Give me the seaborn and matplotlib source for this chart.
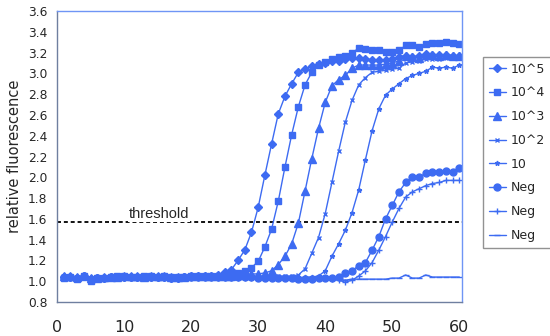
import matplotlib
matplotlib.use("Agg")
import matplotlib.pyplot as plt
import seaborn as sns
import pandas as pd

cycles = list(range(1, 61))

s_1e5 = [1.04,1.04,1.03,1.05,1.02,1.03,1.03,1.04,1.04,1.04, 1.04,1.04,1.04,1.04,1.04,1.04,1.03,1.03,1.04,1.05,
         1.05,1.05,1.05,1.06,1.09,1.11,1.20,1.30,1.47,1.71, 2.02,2.32,2.61,2.78,2.90,3.01,3.04,3.07,3.09,3.10,
         3.12,3.12,3.14,3.15,3.15,3.14,3.13,3.13,3.13,3.14, 3.16,3.17,3.16,3.17,3.19,3.18,3.18,3.18,3.17,3.17]
s_1e4 = [1.03,1.04,1.02,1.05,1.00,1.03,1.03,1.04,1.05,1.05, 1.04,1.04,1.05,1.05,1.04,1.05,1.04,1.04,1.04,1.05,
         1.05,1.05,1.05,1.05,1.06,1.07,1.08,1.10,1.13,1.19, 1.33,1.50,1.77,2.10,2.41,2.68,2.89,3.01,3.08,3.11,
         3.14,3.16,3.17,3.20,3.24,3.23,3.22,3.22,3.21,3.21, 3.22,3.27,3.27,3.25,3.28,3.29,3.29,3.30,3.29,3.28]
s_1e3 = [1.05,1.05,1.04,1.05,1.03,1.03,1.04,1.04,1.04,1.05, 1.05,1.05,1.04,1.05,1.05,1.05,1.04,1.04,1.04,1.05,
         1.05,1.05,1.05,1.05,1.05,1.05,1.06,1.06,1.07,1.07, 1.08,1.10,1.16,1.24,1.36,1.56,1.87,2.18,2.47,2.72,
         2.88,2.94,2.98,3.05,3.08,3.08,3.08,3.08,3.09,3.10, 3.12,3.17,3.16,3.15,3.18,3.18,3.17,3.18,3.17,3.17]
s_1e2 = [1.03,1.03,1.03,1.04,1.02,1.03,1.03,1.03,1.04,1.04, 1.04,1.04,1.04,1.04,1.04,1.04,1.03,1.03,1.04,1.04,
         1.04,1.04,1.04,1.04,1.04,1.04,1.04,1.04,1.04,1.04, 1.04,1.04,1.05,1.05,1.05,1.06,1.12,1.27,1.42,1.65,
         1.95,2.25,2.53,2.74,2.89,2.96,3.01,3.02,3.03,3.04, 3.05,3.10,3.11,3.12,3.14,3.14,3.14,3.15,3.15,3.15]
s_1e1 = [1.03,1.03,1.03,1.04,1.02,1.03,1.03,1.03,1.03,1.04, 1.04,1.04,1.04,1.04,1.04,1.04,1.03,1.03,1.03,1.04,
         1.04,1.04,1.04,1.04,1.04,1.04,1.03,1.03,1.03,1.03, 1.03,1.03,1.03,1.03,1.03,1.03,1.04,1.04,1.05,1.10,
         1.24,1.36,1.49,1.66,1.88,2.17,2.45,2.66,2.79,2.85, 2.90,2.95,2.98,3.00,3.02,3.06,3.05,3.06,3.05,3.08]
neg_a = [1.04,1.04,1.03,1.05,1.02,1.03,1.03,1.04,1.04,1.04, 1.04,1.04,1.04,1.04,1.04,1.04,1.03,1.03,1.04,1.04,
         1.04,1.04,1.04,1.04,1.04,1.04,1.04,1.04,1.04,1.03, 1.03,1.03,1.03,1.03,1.03,1.02,1.02,1.02,1.03,1.03,
         1.03,1.04,1.08,1.10,1.15,1.18,1.30,1.43,1.60,1.73, 1.86,1.95,2.00,2.00,2.04,2.05,2.05,2.06,2.05,2.09]
neg_b = [1.03,1.03,1.03,1.04,1.02,1.03,1.03,1.03,1.03,1.03, 1.03,1.03,1.03,1.03,1.03,1.03,1.03,1.03,1.03,1.03,
         1.03,1.03,1.03,1.03,1.03,1.03,1.03,1.03,1.03,1.03, 1.03,1.03,1.03,1.03,1.03,1.03,1.03,1.03,1.03,1.03,
         1.02,1.01,0.99,1.01,1.05,1.10,1.18,1.30,1.43,1.57, 1.70,1.81,1.86,1.89,1.92,1.94,1.95,1.97,1.97,1.97]
neg_c = [1.03,1.03,1.03,1.04,1.02,1.03,1.03,1.03,1.03,1.03, 1.03,1.03,1.03,1.03,1.03,1.03,1.03,1.03,1.03,1.03,
         1.03,1.03,1.03,1.03,1.03,1.03,1.03,1.03,1.03,1.03, 1.03,1.03,1.03,1.03,1.03,1.03,1.03,1.03,1.03,1.03,
         1.02,1.02,1.01,1.02,1.02,1.02,1.02,1.02,1.02,1.03, 1.03,1.06,1.03,1.03,1.06,1.04,1.04,1.04,1.04,1.04]

labels = ["10^5", "10^4", "10^3", "10^2", "10", "Neg", "Neg", "Neg"]
series = [s_1e5, s_1e4, s_1e3, s_1e2, s_1e1, neg_a, neg_b, neg_c]
threshold = 1.57
y_ticks = [0.8, 1.0, 1.2, 1.4, 1.6, 1.8, 2.0, 2.2, 2.4, 2.6, 2.8, 3.0, 3.2, 3.4, 3.6]
x_ticks = [0, 10, 20, 30, 40, 50, 60]

markers = ["D", "s", "^", "x", "*", "o", "+", "_"]
msizes = [4.5, 4.5, 5.5, 3.5, 3.5, 5, 5, 4]

sns.set_style("white")
plt.rcParams["font.family"] = ["DejaVu Sans"]

blue = "#3d6bf2"
fig = plt.figure(figsize=(5.5, 3.36), dpi=100)
ax = fig.add_axes([57/550, 1-302/336, (462-57)/550, (302-11)/336])

for lab, vals, m, ms in zip(labels, series, markers, msizes):
    df = pd.DataFrame({"cycle": cycles, "value": vals})
    sns.lineplot(data=df, x="cycle", y="value", ax=ax, color=blue, lw=1.0,
                 marker=m, markersize=ms, markeredgecolor=blue, markerfacecolor=blue,
                 markeredgewidth=1.0, label=lab, legend=False)

ax.axhline(threshold, color="black", lw=1.3, ls=(0, (2.2, 1.6)), zorder=1)
ax.text(10.7, threshold + 0.005, "threshold", family="Liberation Sans", fontsize=10.5,
        va="bottom", ha="left", zorder=3,
        bbox=dict(facecolor="white", edgecolor="none", pad=0.3))

ax.set_xlim(0, 60.4)
ax.set_ylim(0.8, 3.6)
ax.set_yticks(y_ticks)
ax.set_yticklabels([f"{v:.1f}" for v in y_ticks], fontsize=8.8)
ax.set_xticks(x_ticks)
ax.set_xticklabels([str(v) for v in x_ticks], fontsize=11.5)
ax.tick_params(axis="y", direction="out", length=3, width=0.8, color="#555555", pad=4)
ax.tick_params(axis="x", direction="out", length=3, width=0.8, color="#555555", pad=10)
ax.set_xlabel("")
ax.set_ylabel("relative fluorescence", fontsize=10.5, labelpad=4)

for side in ["left", "bottom"]:
    ax.spines[side].set_color("#6f7f9f")
    ax.spines[side].set_linewidth(1.0)
for side in ["top", "right"]:
    ax.spines[side].set_color("#6f95f5")
    ax.spines[side].set_linewidth(1.0)

handles = ax.get_lines()[:8]
leg = fig.legend(handles, labels, loc="upper left", bbox_to_anchor=(483/550, 1-57/336),
                 bbox_transform=fig.transFigure, frameon=True, fancybox=False,
                 edgecolor="#777777", fontsize=9, handlelength=1.4, handletextpad=0.35,
                 labelspacing=0.86, borderpad=0.45, borderaxespad=0)
leg.get_frame().set_linewidth(1.0)

fig.savefig("out.png", dpi=100)
